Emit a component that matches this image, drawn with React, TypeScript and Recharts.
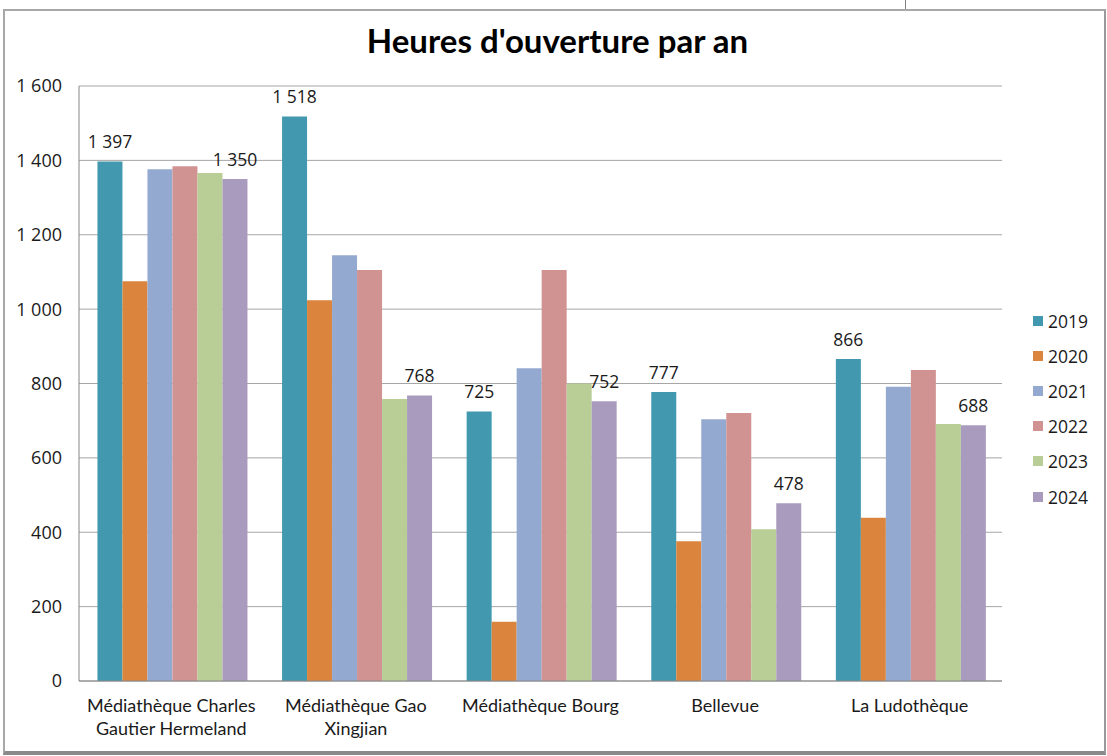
import React from 'react';
import { BarChart, Bar, XAxis, YAxis, CartesianGrid, LabelList } from 'recharts';

const categories = [
  'Médiathèque Charles Gautier Hermeland',
  'Médiathèque Gao Xingjian',
  'Médiathèque Bourg',
  'Bellevue',
  'La Ludothèque',
];
const years = ['2019', '2020', '2021', '2022', '2023', '2024'];
const v2019 = [1397, 1518, 725, 777, 866];
const v2020 = [1075, 1024, 159, 376, 439];
const v2021 = [1376, 1145, 841, 704, 791];
const v2022 = [1384, 1105, 1105, 721, 836];
const v2023 = [1366, 758, 800, 408, 691];
const v2024 = [1350, 768, 752, 478, 688];
const yTicks = [0, 200, 400, 600, 800, 1000, 1200, 1400, 1600];
const labeledYears = ['2019', '2024'];
const title = "Heures d'ouverture par an";

const seriesValues: number[][] = [v2019, v2020, v2021, v2022, v2023, v2024];
const colors = ['#4198AF', '#DB843D', '#93A9CF', '#D19392', '#B9CD96', '#A99BBD'];

const data = categories.map((name, i) => {
  const row: Record<string, string | number> = { name };
  years.forEach((y, j) => {
    row[y] = seriesValues[j][i];
  });
  return row;
});

const fmt = (n: number) =>
  n >= 1000 ? `${Math.floor(n / 1000)}\u00A0${String(n % 1000).padStart(3, '0')}` : String(n);

const wrap = (s: string, max: number) => {
  const words = s.split(' ');
  const lines: string[] = [];
  let cur = '';
  words.forEach((w) => {
    const next = cur ? cur + ' ' + w : w;
    if (next.length > max && cur) {
      lines.push(cur);
      cur = w;
    } else cur = next;
  });
  if (cur) lines.push(cur);
  return lines;
};

const CatTick = (props: any) => {
  const { x, y, payload } = props;
  const lines = wrap(String(payload.value), 20);
  return (
    <g>
      {lines.map((l, i) => (
        <text
          key={i}
          x={x}
          y={y + 23 + i * 23}
          textAnchor="middle"
          fontFamily="Lato, sans-serif"
          fontSize={18}
          fill="#1a1a1a"
        >
          {l}
        </text>
      ))}
    </g>
  );
};

const LabelText = (props: any) => {
  const { x, y, width, value } = props;
  return (
    <text
      x={x + width / 2}
      y={y - 13}
      textAnchor="middle"
      fontFamily='"Open Sans", sans-serif'
      fontSize={17.5}
      fill="#1a1a1a"
    >
      {fmt(Number(value))}
    </text>
  );
};

export default function App() {
  return (
    <div style={{ position: 'absolute', left: 0, top: 0, width: 1107, height: 756, background: '#fff' }}>
      <div
        style={{
          position: 'absolute',
          left: 3,
          top: 9,
          width: 1099,
          height: 740,
          borderLeft: '2px solid #A8A8A8',
          borderTop: '2px solid #A8A8A8',
          borderRight: '2px solid #9A9A9A',
          borderBottom: '4px solid #8A8A8A',
        }}
      />
      <div style={{ position: 'absolute', left: 905, top: 0, width: 1, height: 9, background: '#808080' }} />
      <div
        style={{
          position: 'absolute',
          left: 0,
          width: 1107,
          top: 20,
          textAlign: 'center',
          fontFamily: 'Lato, sans-serif',
          fontWeight: 700,
          fontSize: 33,
          color: '#000',
          paddingLeft: 4,
        }}
      >
        {title}
      </div>
      <div style={{ position: 'absolute', left: 0, top: 0 }}>
        <BarChart
          width={1107}
          height={756}
          data={data}
          margin={{ top: 86, right: 105, bottom: 0, left: 0 }}
          barCategoryGap="10%"
          barGap={0}
        >
          <CartesianGrid vertical={false} stroke="#A6A6A6" />
          <XAxis
            dataKey="name"
            height={75}
            axisLine={{ stroke: '#868686' }}
            tickLine={false}
            tick={<CatTick />}
            interval={0}
          />
          <YAxis
            width={79}
            domain={[0, 1600]}
            ticks={yTicks}
            tickFormatter={fmt}
            axisLine={{ stroke: '#868686' }}
            tickLine={false}
            tickSize={6}
            tickMargin={11}
            tick={{ fontFamily: '"Open Sans", sans-serif', fontSize: 18, fill: '#1a1a1a' }}
          />
          {years.map((y, i) => (
            <Bar key={y} dataKey={y} fill={colors[i]} isAnimationActive={false}>
              {labeledYears.includes(y) && <LabelList dataKey={y} content={<LabelText />} />}
            </Bar>
          ))}
        </BarChart>
      </div>
      <div
        style={{
          position: 'absolute',
          left: 1033,
          top: 303,
          fontFamily: '"Open Sans", sans-serif',
          fontSize: 17.5,
          color: '#1a1a1a',
        }}
      >
        {years.map((y, i) => (
          <div key={y} style={{ height: 35.2, display: 'flex', alignItems: 'center' }}>
            <span style={{ width: 10, height: 10, background: colors[i], display: 'inline-block', marginRight: 5 }} />
            <span>{y}</span>
          </div>
        ))}
      </div>
    </div>
  );
}
